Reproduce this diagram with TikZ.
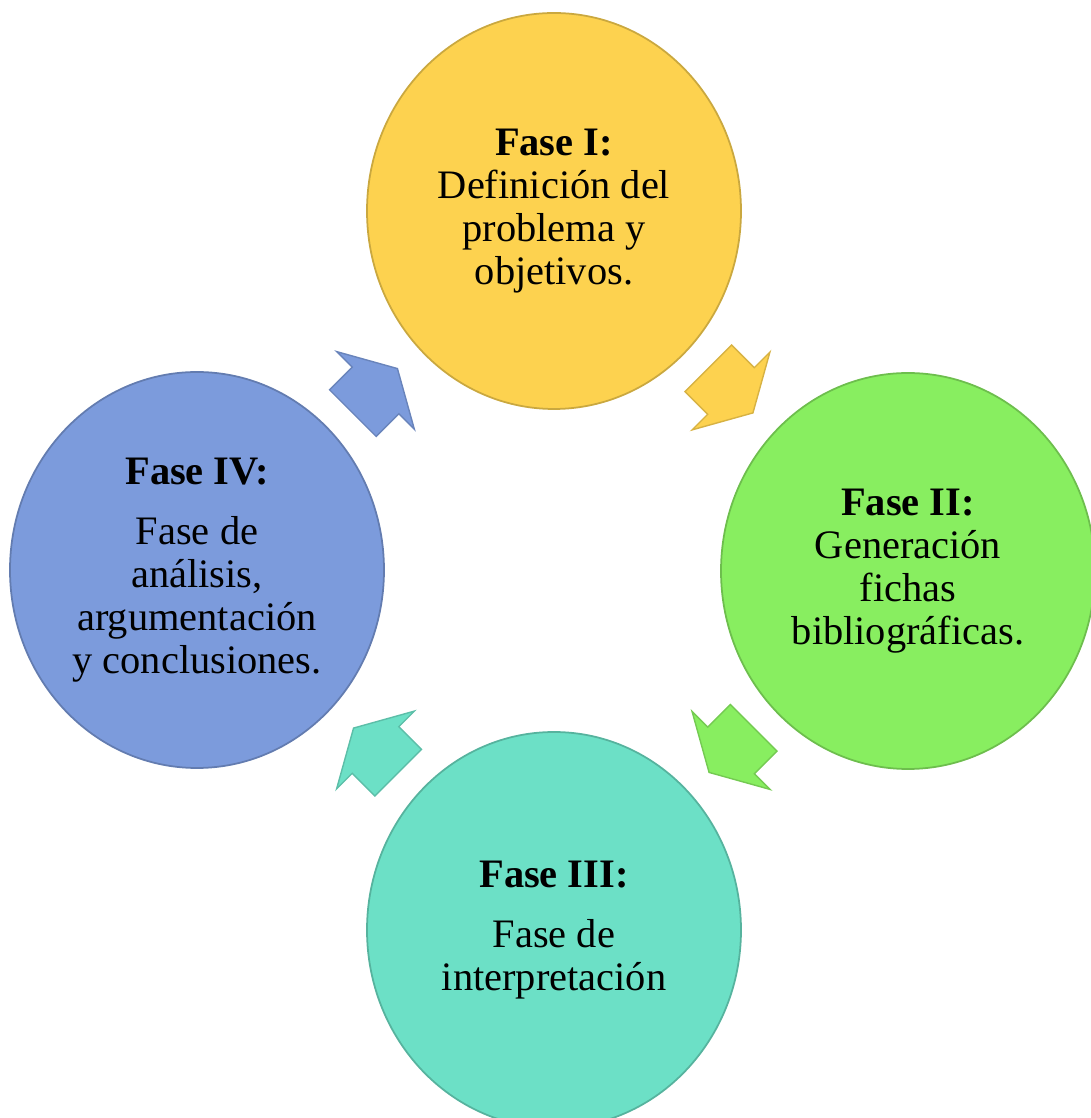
\documentclass[tikz,border=0pt]{standalone}
\usepackage{fontspec}
\setmainfont{Liberation Serif}
\usetikzlibrary{shapes.geometric}
\usetikzlibrary{calc}
\definecolor{amarillo}{HTML}{FDD24F}
\definecolor{verde}{HTML}{88EE60}
\definecolor{turquesa}{HTML}{6CE0C6}
\definecolor{azul}{HTML}{7C9BDC}
\tikzset{fase/.style = {ellipse, fill=#1, draw=#1!80!black, line width=0.5pt,
                        minimum width=3.74cm, minimum height=3.96cm, inner sep=0,
                        align=center, font=\fontsize{11.5}{12.2}\selectfont}}
\tikzset{flecha/.pic = {\path [pic actions] (-0.32, -0.33) -- (-0.32, 0.33) -- (0, 0.33) -- (0, 0.55)
                                            -- (0.31, 0) -- (0, -0.55) -- (0, -0.33) -- cycle;}}
\tikzset{punta/.style = {fill=#1, draw=#1!85!black, line width=0.4pt, line join=miter}}
\begin{document}
\begin{tikzpicture}
      \useasboundingbox (-5.54, -5.50) rectangle (5.36, 5.68);

      \node [fase=amarillo] (faseI) at (0, 3.57) {\textbf{Fase I:}\\Definición del\\problema y\\objetivos.};
      \node [fase=verde] (faseII) at (3.54, -0.03) {\textbf{Fase II:}\\Generación\\fichas\\bibliográficas.};
      \node [fase=turquesa] (faseIII) at (0, -3.62) {\textbf{Fase III:}\\[5pt]Fase de\\interpretación};
      \node [fase=azul] (faseIV) at (-3.57, -0.02) {\textbf{Fase IV:}\\[5pt]Fase de\\análisis,\\argumentación\\y conclusiones.};

      \pic [punta=amarillo, rotate=-45] at ($(faseI)!0.5!(faseII)$) {flecha};
      \pic [punta=verde, rotate=-135] at ($(faseII)!0.5!(faseIII)$) {flecha};
      \pic [punta=turquesa, rotate=135] at ($(faseIII)!0.5!(faseIV)$) {flecha};
      \pic [punta=azul, rotate=45] at ($(faseIV)!0.5!(faseI)$) {flecha};
    \end{tikzpicture}
\end{document}
